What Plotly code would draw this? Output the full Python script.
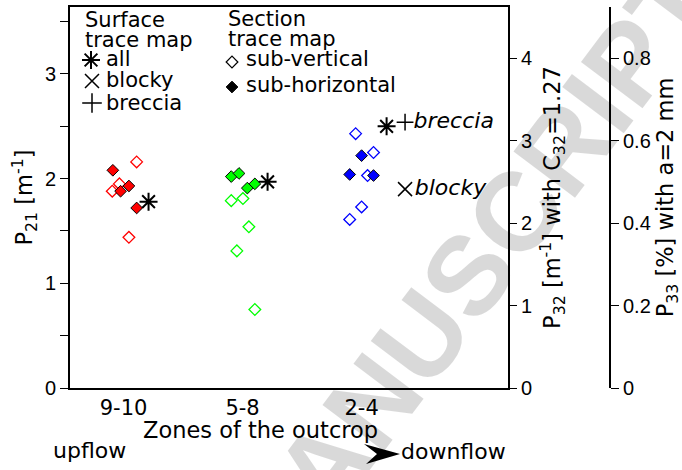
import plotly.graph_objects as go

# ---------------- data ----------------
zones = ["9-10", "5-8", "2-4"]
zone_pos = [1, 2, 3]

# Section trace map, sub-vertical fractures: offset inside each zone and P21 [1/m]
subv_dx_9_10 = [-0.095, -0.035, 0.045, 0.11]
subv_p21_9_10 = [1.88, 1.95, 1.44, 2.16]
subv_dx_5_8 = [-0.095, -0.048, 0.003, 0.053, 0.103]
subv_p21_5_8 = [1.79, 1.31, 1.81, 1.54, 0.75]
subv_dx_2_4 = [-0.10, -0.05, 0.0, 0.05, 0.10]
subv_p21_2_4 = [1.61, 2.43, 1.73, 2.03, 2.25]

# Section trace map, sub-horizontal fractures
subh_dx_9_10 = [-0.09, -0.025, 0.045, 0.11]
subh_p21_9_10 = [2.08, 1.88, 1.93, 1.72]
subh_dx_5_8 = [-0.095, -0.03, 0.04, 0.103]
subh_p21_5_8 = [2.02, 2.05, 1.91, 1.95]
subh_dx_2_4 = [-0.10, 0.0, 0.10]
subh_p21_2_4 = [2.04, 2.22, 2.03]

# Surface trace map
surf_all_p21 = [1.78, 1.97, 2.50]
surf_all_dx = 0.21
surf_blocky_p21 = 1.90      # zone 2-4 only
surf_breccia_p21 = 2.54     # zone 2-4 only
surf_class_dx = 0.365

zone_colors = ["#ff0000", "#00ff00", "#0000ff"]

C32 = 1.27        # P32 = C32 * P21
P33_PER_P32 = 0.2  # P33 [%] per P32 [1/m] for aperture a = 2 mm

# ---------------- layout geometry ----------------
W, H = 682, 470
ML, MR, MT, MB = 70, 40, 7, 82
PW = W - ML - MR
PH = H - MT - MB
FRAME_RIGHT = 508
P33_AXIS_X = 610
Y_MAX = 3.64


def fx(px):
    return (px - ML) / PW


def fy(py):
    return (H - MB - py) / PH


DEJAVU = "DejaVu Sans"
HELV = "Liberation Sans, Arial, sans-serif"
CLEAR = "rgba(0,0,0,0)"

fig = go.Figure()

subv = [(subv_dx_9_10, subv_p21_9_10), (subv_dx_5_8, subv_p21_5_8), (subv_dx_2_4, subv_p21_2_4)]
subh = [(subh_dx_9_10, subh_p21_9_10), (subh_dx_5_8, subh_p21_5_8), (subh_dx_2_4, subh_p21_2_4)]

for pos, color, (dx, vals) in zip(zone_pos, zone_colors, subv):
    fig.add_trace(go.Scatter(
        x=[pos + d for d in dx], y=vals, mode="markers",
        marker=dict(symbol="diamond-open", size=9, color=color, line=dict(width=1.3, color=color)),
        showlegend=False, cliponaxis=False))

for pos, color, (dx, vals) in zip(zone_pos, zone_colors, subh):
    fig.add_trace(go.Scatter(
        x=[pos + d for d in dx], y=vals, mode="markers",
        marker=dict(symbol="diamond", size=9, color=color, line=dict(width=1, color="black")),
        showlegend=False, cliponaxis=False))

fig.add_trace(go.Scatter(
    x=[p + surf_all_dx for p in zone_pos], y=surf_all_p21, mode="markers",
    marker=dict(symbol="asterisk-open", size=15, color="black", line=dict(width=2, color="black")),
    showlegend=False, cliponaxis=False))

fig.add_trace(go.Scatter(
    x=[zone_pos[2] + surf_class_dx], y=[surf_blocky_p21], mode="markers+text",
    text=["<i>blocky</i>"], textposition="middle right",
    textfont=dict(family=DEJAVU, size=22, color="black"),
    marker=dict(symbol="x-thin-open", size=14, color="black", line=dict(width=1.5, color="black")),
    showlegend=False, cliponaxis=False))

fig.add_trace(go.Scatter(
    x=[zone_pos[2] + surf_class_dx], y=[surf_breccia_p21], mode="markers+text",
    text=["<i>breccia</i>"], textposition="middle right",
    textfont=dict(family=DEJAVU, size=22, color="black"),
    marker=dict(symbol="cross-thin-open", size=12, color="black", line=dict(width=1.5, color="black")),
    showlegend=False, cliponaxis=False))

# place-holders so that the secondary scales are drawn
fig.add_trace(go.Scatter(x=[None], y=[None], yaxis="y2", showlegend=False))
fig.add_trace(go.Scatter(x=[None], y=[None], yaxis="y3", showlegend=False))

# key glyphs, drawn in a pixel-space overlay
key_glyphs = [
    ("asterisk-open", 15, 91, 60, "black", 2),
    ("x-thin-open", 14, 92, 81, "black", 1.5),
    ("cross-thin-open", 14, 92, 103, "black", 1.5),
    ("diamond-open", 9, 232, 62, "black", 1.2),
    ("diamond", 9, 232, 87, "black", 1),
]
for sym, size, kx, ky, col, lw in key_glyphs:
    fig.add_trace(go.Scatter(
        x=[kx], y=[ky], xaxis="x4", yaxis="y4", mode="markers",
        marker=dict(symbol=sym, size=size, color=col, line=dict(width=lw, color=col)),
        showlegend=False, cliponaxis=False, hoverinfo="skip"))

annotations = []


def label(text, x_left, baseline, size=21, family=DEJAVU, anchor="left"):
    annotations.append(dict(
        text=text, x=fx(x_left), y=fy(baseline - 0.33 * size), xref="paper", yref="paper",
        xanchor=anchor, yanchor="middle", showarrow=False,
        font=dict(family=family, size=size, color="black")))


label("Surface", 83, 27)
label("trace map", 83, 47)
label("all", 104, 66)
label("blocky", 104, 87)
label("breccia", 104, 110)
label("Section", 226, 26)
label("trace map", 226, 46)
label("sub-vertical", 244, 66)
label("sub-horizontal", 244, 92)
label("Zones of the outcrop", 141, 437, size=22.5)
label("upflow", 51, 458, size=22)
label("downflow", 399, 459, size=22)

# faint diagonal watermark
annotations.append(dict(
    text="<b>MANUSCRIPT</b>", x=fx(468), y=fy(275), xref="paper", yref="paper",
    xanchor="center", yanchor="middle", showarrow=False, textangle=-53,
    font=dict(family=HELV, size=112, color="rgba(0,0,0,0.15)")))

shapes = [dict(
    type="path", xref="paper", yref="paper",
    path="M {},{} L {},{} L {},{} L {},{} Z".format(
        fx(364), fy(444), fx(400), fy(454), fx(366), fy(464), fx(377), fy(454)),
    fillcolor="black", line=dict(width=0))]

tick_font = dict(family=HELV, size=20, color="black")
title_font = dict(family=DEJAVU, size=22.5, color="black")

fig.update_layout(
    width=W, height=H,
    margin=dict(l=ML, r=MR, t=MT, b=MB, pad=0, autoexpand=False),
    paper_bgcolor="white", plot_bgcolor=CLEAR,
    showlegend=False,
    annotations=annotations,
    shapes=shapes,
    xaxis=dict(
        domain=[0, fx(FRAME_RIGHT)], range=[0.55, 4.23],
        tickvals=zone_pos, ticktext=zones, ticks="",
        tickfont=dict(family=DEJAVU, size=21, color="black"),
        ticklabelstandoff=0,
        showline=True, linecolor="black", linewidth=2, mirror=True, automargin=False,
        showgrid=False, zeroline=False, fixedrange=True),
    yaxis=dict(
        range=[0, Y_MAX],
        tickvals=[0, 0.5, 1, 1.5, 2, 2.5, 3, 3.5],
        ticktext=["0", "", "1", "", "2", "", "3", ""],
        ticks="outside", ticklen=8, tickwidth=1, tickcolor="black",
        tickfont=tick_font,
        title=dict(text="P<sub>21</sub> [m<sup>-1</sup>]", font=title_font, standoff=6),
        showline=True, linecolor="black", linewidth=2, mirror=True, automargin=False,
        showgrid=False, zeroline=False, fixedrange=True),
    yaxis2=dict(
        overlaying="y", side="right", anchor="x",
        range=[0, Y_MAX * C32], tickvals=[0, 1, 2, 3, 4],
        ticks="outside", ticklen=8, tickwidth=1, tickcolor="black",
        tickfont=tick_font,
        title=dict(text="P<sub>32</sub> [m<sup>-1</sup>] with C<sub>32</sub>=1.27",
                   font=title_font, standoff=13),
        showline=False, showgrid=False, zeroline=False, fixedrange=True, automargin=False),
    yaxis3=dict(
        overlaying="y", side="right", anchor="free", position=fx(P33_AXIS_X),
        range=[0, Y_MAX * C32 * P33_PER_P32],
        tickvals=[0, 0.2, 0.4, 0.6, 0.8], ticktext=["0", "0.2", "0.4", "0.6", "0.8"],
        ticks="outside", ticklen=8, tickwidth=1, tickcolor="black",
        tickfont=tick_font,
        title=dict(text="P<sub>33</sub> [%] with a=2 mm", font=title_font, standoff=14),
        showline=True, linecolor="black", linewidth=2, automargin=False,
        showgrid=False, zeroline=False, fixedrange=True),
    xaxis4=dict(domain=[0, 1], range=[ML, W - MR], anchor="y4", visible=False, fixedrange=True),
    yaxis4=dict(domain=[0, 1], range=[H - MB, MT], anchor="x4", visible=False, fixedrange=True),
)

fig.write_html("out.html")
